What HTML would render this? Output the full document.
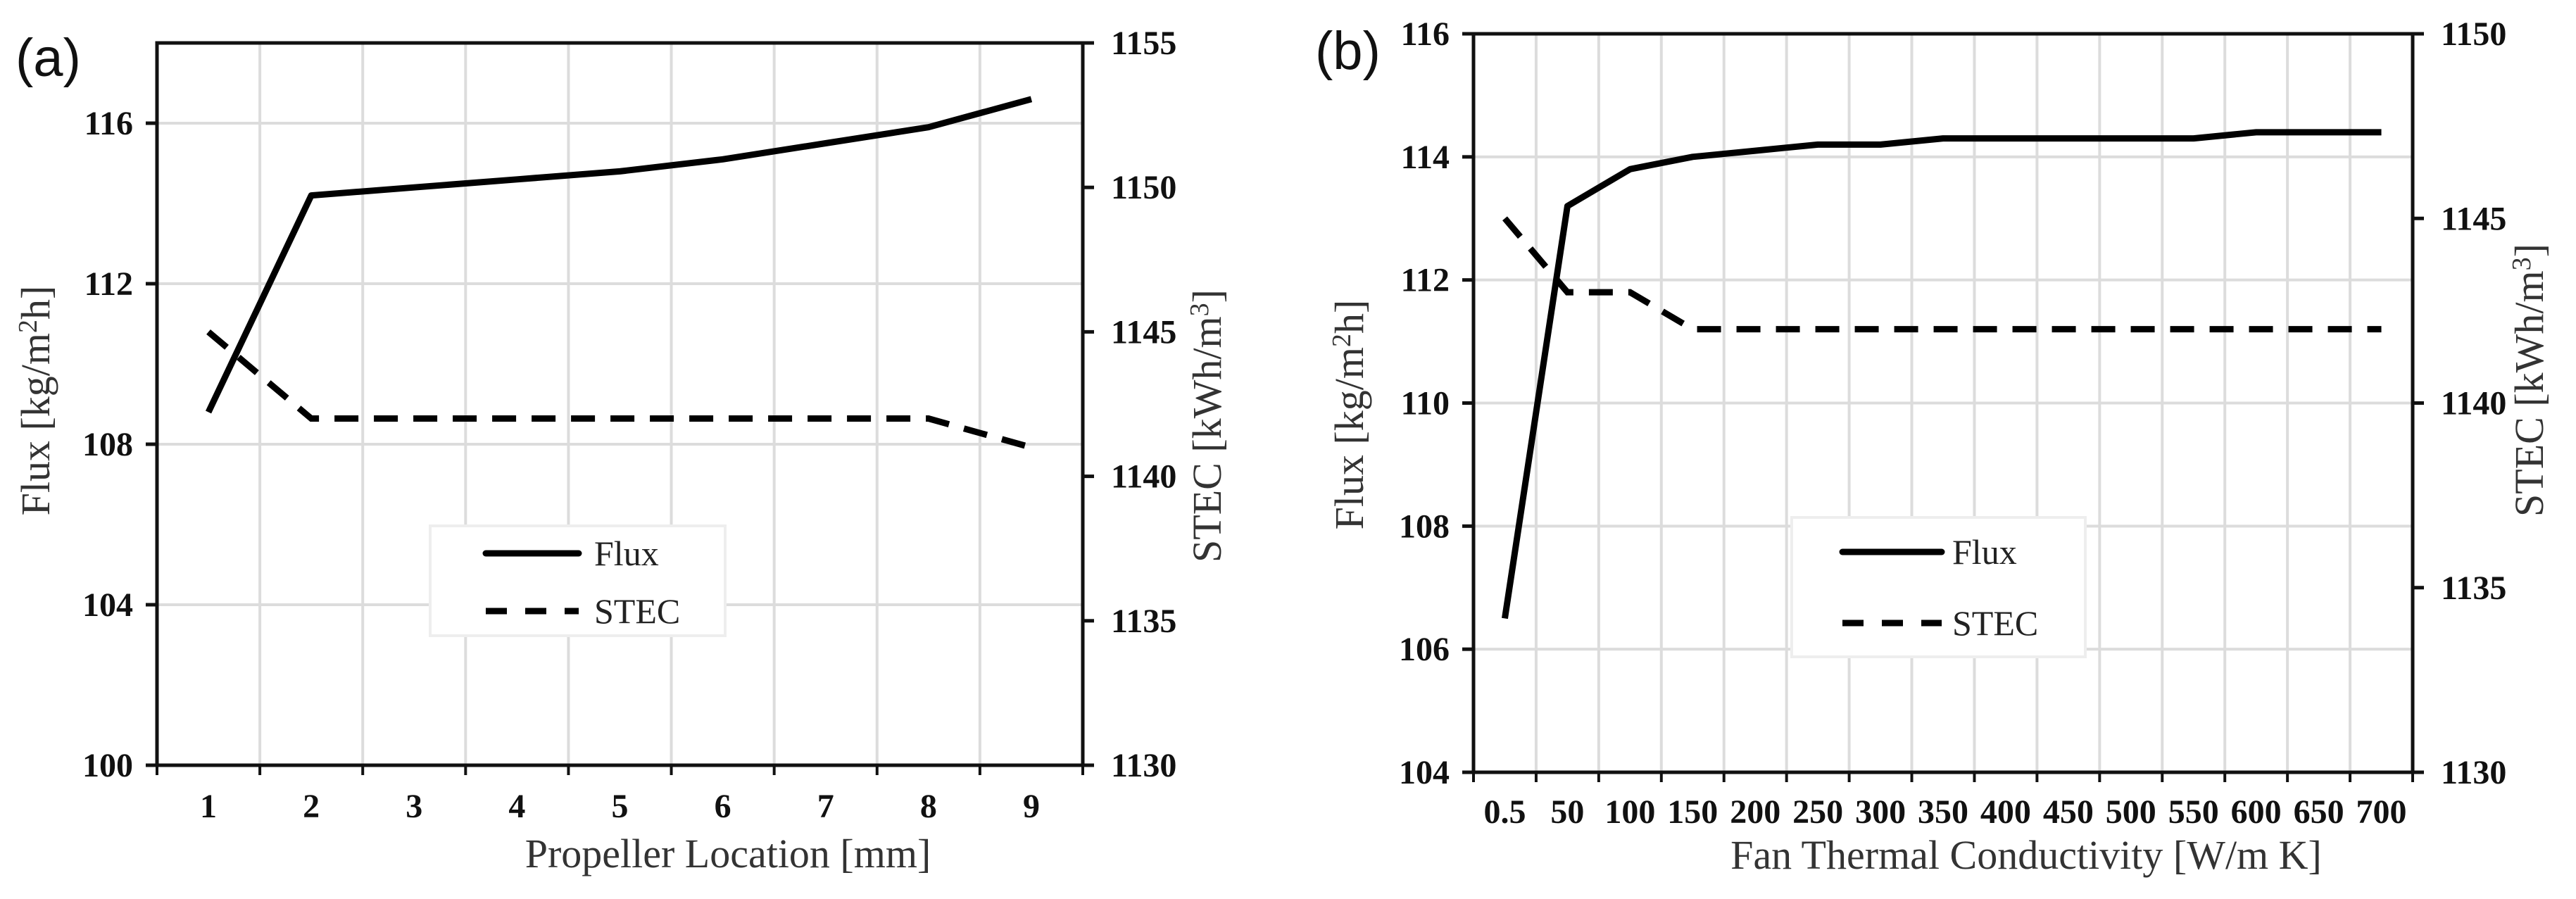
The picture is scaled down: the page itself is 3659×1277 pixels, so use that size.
<!DOCTYPE html>
<html><head><meta charset="utf-8"><style>
html,body{margin:0;padding:0;background:#fff;}
svg{display:block;}
.tick{font-family:"Liberation Serif",serif;font-weight:bold;font-size:48px;fill:#111;}
.title{font-family:"Liberation Serif",serif;font-size:58px;fill:#333;}
.leg{font-family:"Liberation Serif",serif;font-size:50px;fill:#222;}
.panel{font-family:"Liberation Sans",sans-serif;font-size:76px;fill:#111;}
</style></head><body>
<svg id="chart" width="3659" height="1277" viewBox="0 0 3659 1277" xmlns="http://www.w3.org/2000/svg">
<text class="panel" x="22" y="108">(a)</text>
<text class="panel" x="1868" y="98">(b)</text>
<g id="ga"></g>
<g id="gb"></g>
</svg>
<script>
// Chart (a) data
const catsA = ["1","2","3","4","5","6","7","8","9"];
const fluxA = [108.8,114.2,114.4,114.6,114.8,115.1,115.5,115.9,116.6];
const stecA = [1145,1142,1142,1142,1142,1142,1142,1142,1141];
const leftTicksA = [100,104,108,112,116];
const rightTicksA = [1130,1135,1140,1145,1150,1155];
// Chart (b) data
const catsB = ["0.5","50","100","150","200","250","300","350","400","450","500","550","600","650","700"];
const fluxB = [106.5,113.2,113.8,114.0,114.1,114.2,114.2,114.3,114.3,114.3,114.3,114.3,114.4,114.4,114.4];
const stecB = [1145,1143,1143,1142,1142,1142,1142,1142,1142,1142,1142,1142,1142,1142,1142];
const leftTicksB = [104,106,108,110,112,114,116];
const rightTicksB = [1130,1135,1140,1145,1150];

const NS="http://www.w3.org/2000/svg";
function mk(parent,tag,attrs){const e=document.createElementNS(NS,tag);for(const k in attrs)e.setAttribute(k,attrs[k]);parent.appendChild(e);return e;}

function draw(g,cfg){
  const {L,R,T,B,cats,flux,stec,lmin,lmax,rmin,rmax,lticks,rticks}=cfg;
  const n=cats.length, cw=(R-L)/n;
  const xs=i=>L+cw*(i+0.5);
  const yl=v=>B-(v-lmin)/(lmax-lmin)*(B-T);
  const yr=v=>B-(v-rmin)/(rmax-rmin)*(B-T);
  for(let i=1;i<n;i++){const l=mk(g,'line',{x1:L+cw*i,x2:L+cw*i,y1:T,y2:B,stroke:'#dcdcdc','stroke-width':4});
    
    }
  lticks.forEach(v=>{if(v>lmin&&v<lmax){const l=mk(g,'line',{x1:L,x2:R,y1:yl(v),y2:yl(v),stroke:'#dcdcdc','stroke-width':4});
    
    }});
  const fr=mk(g,'rect',{x:L,y:T,width:R-L,height:B-T,fill:'none',stroke:'#111','stroke-width':5});
  
  
  for(let i=0;i<=n;i++){mk(g,'line',{x1:L+cw*i,x2:L+cw*i,y1:B,y2:B+14,stroke:'#111','stroke-width':4});}
  cats.forEach((c,i)=>{const t=mk(g,'text',{class:'tick',x:xs(i),y:cfg.xly,'text-anchor':'middle'});t.textContent=c;
    
    });
  lticks.forEach(v=>{mk(g,'line',{x1:L-16,x2:L,y1:yl(v),y2:yl(v),stroke:'#111','stroke-width':5});
    const t=mk(g,'text',{class:'tick',x:L-34,y:yl(v)+16,'text-anchor':'end'});t.textContent=v;
    
    });
  rticks.forEach(v=>{mk(g,'line',{x1:R,x2:R+16,y1:yr(v),y2:yr(v),stroke:'#111','stroke-width':5});
    const t=mk(g,'text',{class:'tick',x:R+40,y:yr(v)+16,'text-anchor':'start'});t.textContent=v;
    
    });
  const pf=mk(g,'polyline',{points:flux.map((v,i)=>xs(i)+','+yl(v)).join(' '),fill:'none',stroke:'#000','stroke-width':9,'stroke-linejoin':'round'});
  
  
  const ps=mk(g,'polyline',{points:stec.map((v,i)=>xs(i)+','+yr(v)).join(' '),fill:'none',stroke:'#000','stroke-width':9,'stroke-dasharray':'34 22'});
  
  
  const t1=mk(g,'text',{class:'title',x:0,y:0,'text-anchor':'middle',transform:`translate(${cfg.ltx},${cfg.lty}) rotate(-90)`});
  t1.innerHTML='Flux [kg/m<tspan dy="-18" font-size="38">2</tspan><tspan dy="18">h]</tspan>';
  
  
  const t2=mk(g,'text',{class:'title',x:0,y:0,'text-anchor':'middle',transform:`translate(${cfg.rtx},${cfg.rty}) rotate(-90)`});
  t2.innerHTML='STEC [kWh/m<tspan dy="-18" font-size="38">3</tspan><tspan dy="18">]</tspan>';
  
  
  const t3=mk(g,'text',{class:'title',x:cfg.xtx,y:cfg.xty,'text-anchor':'middle'});t3.textContent=cfg.xtitle;
  
  
  const lg=cfg.leg;
  const lb=mk(g,'rect',{x:lg.x,y:lg.y,width:lg.w,height:lg.h,fill:'#fff',stroke:'#eee','stroke-width':4});
  
  
  mk(g,'line',{x1:lg.lx1,x2:lg.lx2,y1:lg.y1,y2:lg.y1,stroke:'#000','stroke-width':9,'stroke-linecap':'round'});
  mk(g,'line',{x1:lg.lx1,x2:lg.lx2,y1:lg.y2,y2:lg.y2,stroke:'#000','stroke-width':9,'stroke-dasharray':'30 26'});
  const a=mk(g,'text',{class:'leg',x:lg.tx,y:lg.y1+17});a.textContent='Flux';
  
  
  const b=mk(g,'text',{class:'leg',x:lg.tx,y:lg.y2+17});b.textContent='STEC';
  
  
}
draw(document.getElementById('ga'),{L:223,R:1538,T:61,B:1087,cats:catsA,flux:fluxA,stec:stecA,lmin:100,lmax:118,rmin:1130,rmax:1155,
  lticks:leftTicksA,rticks:rightTicksA,xly:1161,ltx:70,lty:569,rtx:1734,rty:605,xtx:1034,xty:1232,xtitle:'Propeller Location [mm]',
  leg:{x:611,y:747,w:419,h:156,lx1:690,lx2:822,y1:786,y2:868,tx:844}});
draw(document.getElementById('gb'),{L:2093,R:3427,T:48,B:1097,cats:catsB,flux:fluxB,stec:stecB,lmin:104,lmax:116,rmin:1130,rmax:1150,
  lticks:leftTicksB,rticks:rightTicksB,xly:1169,ltx:1936,lty:589,rtx:3612,rty:540,xtx:2878,xty:1234,xtitle:'Fan Thermal Conductivity [W/m K]',
  leg:{x:2545,y:735,w:417,h:198,lx1:2617,lx2:2758,y1:784,y2:885,tx:2773}});
</script>
</body></html>
